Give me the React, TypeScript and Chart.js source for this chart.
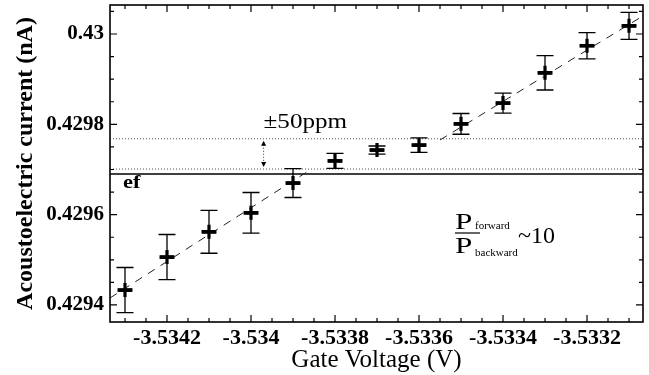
import React, { useEffect, useRef } from "react";
import { Chart, registerables } from "chart.js";

Chart.register(...registerables);

// ---- data ----
const voltages = [-3.5343, -3.5342, -3.5341, -3.534, -3.5339, -3.5338, -3.5337, -3.5336, -3.5335, -3.5334, -3.5333, -3.5332, -3.5331];
const currents = [0.429433, 0.429506, 0.429562, 0.429604, 0.42967, 0.429719, 0.429743, 0.429754, 0.429801, 0.429847, 0.429914, 0.429974, 0.430018];
const errors = [0.00005, 0.00005, 0.0000475, 0.000045, 0.000032, 0.0000166, 0.000009, 0.000016, 0.000023, 0.000022, 0.000038, 0.000029, 0.00003];

const fitLeftX = [-3.5343357, -3.5338667];
const fitLeftY = [0.4294155, 0.4296946];
const fitRightX = [-3.53355, -3.5330667];
const fitRightY = [0.4297654, 0.43004];

const efLevel = 0.42969;
const bandLow = 0.429701;
const bandHigh = 0.429768;
const arrowX = -3.53397;

const xMin = -3.5343357;
const xMax = -3.5330667;
const yMin = 0.4293623;
const yMax = 0.4300642;

const xTicks = [-3.5342, -3.534, -3.5338, -3.5336, -3.5334, -3.5332];
const xTickLabels = ["-3.5342", "-3.534", "-3.5338", "-3.5336", "-3.5334", "-3.5332"];
const yTicks = [0.4294, 0.4296, 0.4298, 0.43];
const yTickLabels = ["0.4294", "0.4296", "0.4298", "0.43"];

const xMinorStep = 0.00005;
const yMinorStep = 0.00005;

const SERIF = "'Liberation Serif', 'Times New Roman', serif";

function stretchedText(ctx: any, text: string, x: number, y: number, sx: number) {
  ctx.save();
  ctx.translate(x, y);
  ctx.scale(sx, 1);
  ctx.fillText(text, 0, 0);
  const w = ctx.measureText(text).width * sx;
  ctx.restore();
  return w;
}

const annotPlugin = {
  id: "annot",
  afterDatasetsDraw(chart: any) {
    const ctx = chart.ctx;
    const xs = chart.scales.x;
    const ys = chart.scales.y;
    const { left, right, top, bottom } = chart.chartArea;
    ctx.save();
    // error bars
    ctx.strokeStyle = "#000";
    ctx.lineWidth = 1.3;
    voltages.forEach((v, i) => {
      const px = xs.getPixelForValue(v);
      const pt = ys.getPixelForValue(currents[i] + errors[i]);
      const pb = ys.getPixelForValue(currents[i] - errors[i]);
      ctx.beginPath();
      ctx.moveTo(px, pt);
      ctx.lineTo(px, pb);
      ctx.moveTo(px - 8.5, pt);
      ctx.lineTo(px + 8.5, pt);
      ctx.moveTo(px - 8.5, pb);
      ctx.lineTo(px + 8.5, pb);
      ctx.stroke();
      const py = ys.getPixelForValue(currents[i]);
      ctx.save();
      ctx.lineWidth = 3.6;
      ctx.beginPath();
      ctx.moveTo(px - 7.5, py);
      ctx.lineTo(px + 7.5, py);
      ctx.stroke();
      ctx.restore();
    });
    // frame
    ctx.lineWidth = 1.6;
    ctx.strokeRect(left, top, right - left, bottom - top);
    // ticks
    ctx.lineWidth = 1.2;
    ctx.beginPath();
    for (let v = Math.ceil(xMin / xMinorStep) * xMinorStep; v <= xMax; v += xMinorStep) {
      const px = xs.getPixelForValue(v);
      const major = xTicks.some((t) => Math.abs(t - v) < 1e-8);
      const len = major ? 7 : 4;
      ctx.moveTo(px, bottom);
      ctx.lineTo(px, bottom - len);
      ctx.moveTo(px, top);
      ctx.lineTo(px, top + len);
    }
    for (let v = Math.ceil(yMin / yMinorStep) * yMinorStep; v <= yMax; v += yMinorStep) {
      const py = ys.getPixelForValue(v);
      const major = yTicks.some((t) => Math.abs(t - v) < 1e-8);
      const len = major ? 7 : 4;
      ctx.moveTo(left, py);
      ctx.lineTo(left + len, py);
      ctx.moveTo(right, py);
      ctx.lineTo(right - len, py);
    }
    ctx.stroke();

    // arrow between band lines
    const ax = xs.getPixelForValue(arrowX);
    const aTop = ys.getPixelForValue(bandHigh);
    const aBot = ys.getPixelForValue(bandLow);
    ctx.strokeStyle = "#333";
    ctx.lineWidth = 1;
    ctx.setLineDash([1, 2]);
    ctx.beginPath();
    ctx.moveTo(ax, aTop + 6);
    ctx.lineTo(ax, aBot - 6);
    ctx.stroke();
    ctx.setLineDash([]);
    ctx.fillStyle = "#000";
    ctx.beginPath();
    ctx.moveTo(ax, aTop + 2);
    ctx.lineTo(ax - 2.5, aTop + 7);
    ctx.lineTo(ax + 2.5, aTop + 7);
    ctx.closePath();
    ctx.fill();
    ctx.beginPath();
    ctx.moveTo(ax, aBot - 2);
    ctx.lineTo(ax - 2.5, aBot - 7);
    ctx.lineTo(ax + 2.5, aBot - 7);
    ctx.closePath();
    ctx.fill();

    // texts
    ctx.fillStyle = "#000";
    ctx.textBaseline = "alphabetic";
    ctx.textAlign = "left";
    ctx.font = `22px ${SERIF}`;
    stretchedText(ctx, "\u00B150ppm", ax, 128, 1.14);
    ctx.font = `bold 18px ${SERIF}`;
    stretchedText(ctx, "ef", left + 13, 188, 1.25);

    // fraction
    const fx = 455;
    ctx.font = `24px ${SERIF}`;
    stretchedText(ctx, "P", fx, 229, 1.3);
    stretchedText(ctx, "P", fx, 253, 1.3);
    ctx.font = `11px ${SERIF}`;
    ctx.fillText("forward", fx + 20, 229);
    ctx.fillText("backward", fx + 20, 256);
    ctx.lineWidth = 1.2;
    ctx.strokeStyle = "#000";
    ctx.beginPath();
    ctx.moveTo(fx, 233);
    ctx.lineTo(fx + 25, 233);
    ctx.stroke();
    ctx.font = `24px ${SERIF}`;
    ctx.fillText("~10", 518, 243);
    ctx.restore();
  },
};

export default function App() {
  const ref = useRef<HTMLCanvasElement | null>(null);
  useEffect(() => {
    if (!ref.current) return;
    const pts = voltages.map((x, i) => ({ x, y: currents[i] }));
    const chart = new Chart(ref.current, {
      type: "scatter",
      data: {
        datasets: [
          {
            type: "line",
            data: fitLeftX.map((x, i) => ({ x, y: fitLeftY[i] })),
            borderColor: "#222",
            borderWidth: 1,
            borderDash: [8, 7],
            pointRadius: 0,
          } as any,
          {
            type: "line",
            data: fitRightX.map((x, i) => ({ x, y: fitRightY[i] })),
            borderColor: "#222",
            borderWidth: 1,
            borderDash: [8, 7],
            pointRadius: 0,
          } as any,
          {
            type: "line",
            data: [{ x: xMin, y: efLevel }, { x: xMax, y: efLevel }],
            borderColor: "#000",
            borderWidth: 1.6,
            pointRadius: 0,
          } as any,
          {
            type: "line",
            data: [{ x: xMin, y: bandLow }, { x: xMax, y: bandLow }],
            borderColor: "#555",
            borderWidth: 1,
            borderDash: [1, 2],
            pointRadius: 0,
          } as any,
          {
            type: "line",
            data: [{ x: xMin, y: bandHigh }, { x: xMax, y: bandHigh }],
            borderColor: "#555",
            borderWidth: 1,
            borderDash: [1, 2],
            pointRadius: 0,
          } as any,
          {
            data: pts,
            pointStyle: "cross",
            pointRadius: 7,
            borderWidth: 3.2,
            borderColor: "#000",
            backgroundColor: "#000",
          } as any,
        ],
      },
      options: {
        animation: false,
        responsive: false,
        layout: { autoPadding: false, padding: { top: 5, right: 6, left: 0, bottom: 0 } },
        plugins: { legend: { display: false }, tooltip: { enabled: false } },
        scales: {
          x: {
            type: "linear",
            min: xMin,
            max: xMax,
            afterFit: (s: any) => {
              s.height = 53;
              s.paddingLeft = 0;
              s.paddingRight = 0;
            },
            afterBuildTicks: (s: any) => {
              s.ticks = xTicks.map((v) => ({ value: v }));
            },
            ticks: {
              callback: (_v: any, i: number) => xTickLabels[i],
              font: { family: SERIF, size: 22, weight: "bold" },
              color: "#000",
              padding: 3,
              maxRotation: 0,
              autoSkip: false,
            },
            grid: { display: false, drawTicks: false },
            border: { display: false },
            title: {
              display: true,
              text: "Gate Voltage (V)",
              font: { family: SERIF, size: 25 },
              color: "#000",
              padding: { top: 0, bottom: 0 },
            },
          },
          y: {
            type: "linear",
            min: yMin,
            max: yMax,
            afterFit: (s: any) => {
              s.width = 110;
              s.paddingTop = 0;
              s.paddingBottom = 0;
            },
            afterBuildTicks: (s: any) => {
              s.ticks = yTicks.map((v) => ({ value: v }));
            },
            ticks: {
              callback: (_v: any, i: number) => yTickLabels[i],
              font: { family: SERIF, size: 21, weight: "bold" },
              color: "#000",
              padding: 6,
              autoSkip: false,
            },
            grid: { display: false, drawTicks: false },
            border: { display: false },
            title: {
              display: true,
              text: "Acoustoelectric current (nA)",
              font: { family: SERIF, size: 24, weight: "bold" },
              color: "#000",
              padding: { top: 11, bottom: 11 },
            },
          },
        },
      } as any,
      plugins: [annotPlugin],
    });
    return () => chart.destroy();
  }, []);
  return (
    <div style={{ position: "absolute", left: 0, top: 0, width: 649, height: 375, background: "#fff" }}>
      <canvas ref={ref} width={649} height={375} />
    </div>
  );
}
